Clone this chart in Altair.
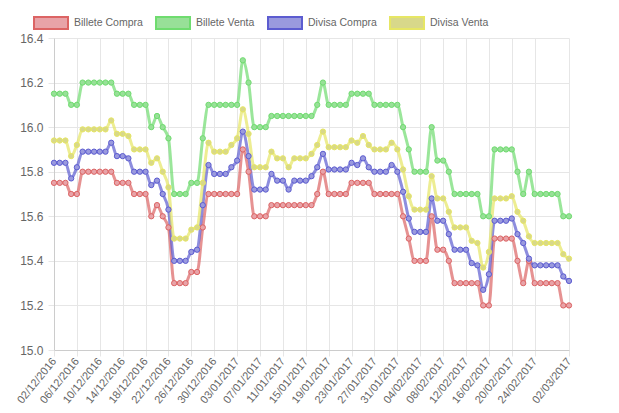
import altair as alt
import pandas as pd

# Daily categories shown on the x axis (02/12/2016 .. 02/03/2017)
fechas = pd.date_range("2016-12-02", "2017-03-02").strftime("%d/%m/%Y").tolist()

tick_labels = ["02/12/2016", "06/12/2016", "10/12/2016", "14/12/2016", "18/12/2016",
               "22/12/2016", "26/12/2016", "30/12/2016", "03/01/2017", "07/01/2017",
               "11/01/2017", "15/01/2017", "19/01/2017", "23/01/2017", "27/01/2017",
               "31/01/2017", "04/02/2017", "08/02/2017", "12/02/2017", "16/02/2017",
               "20/02/2017", "24/02/2017", "02/03/2017"]

y_ticks = [15.0, 15.2, 15.4, 15.6, 15.8, 16.0, 16.2, 16.4]

series = ["Billete Compra", "Billete Venta", "Divisa Compra", "Divisa Venta"]

billete_compra = [
    15.75, 15.75, 15.75, 15.70, 15.70, 15.80, 15.80, 15.80, 15.80, 15.80,
    15.80, 15.75, 15.75, 15.75, 15.70, 15.70, 15.70, 15.60, 15.65, 15.60,
    15.55, 15.30, 15.30, 15.30, 15.35, 15.35, 15.55, 15.70, 15.70, 15.70,
    15.70, 15.70, 15.70, 15.90, 15.80, 15.60, 15.60, 15.60, 15.65, 15.65,
    15.65, 15.65, 15.65, 15.65, 15.65, 15.65, 15.70, 15.80, 15.70, 15.70,
    15.70, 15.70, 15.75, 15.75, 15.75, 15.75, 15.70, 15.70, 15.70, 15.70,
    15.70, 15.60, 15.50, 15.40, 15.40, 15.40, 15.60, 15.45, 15.45, 15.40,
    15.30, 15.30, 15.30, 15.30, 15.30, 15.20, 15.20, 15.50, 15.50, 15.50,
    15.50, 15.40, 15.30, 15.40, 15.30, 15.30, 15.30, 15.30, 15.30, 15.20,
    15.20]

billete_venta = [
    16.15, 16.15, 16.15, 16.10, 16.10, 16.20, 16.20, 16.20, 16.20, 16.20,
    16.20, 16.15, 16.15, 16.15, 16.10, 16.10, 16.10, 16.00, 16.05, 16.00,
    15.95, 15.70, 15.70, 15.70, 15.75, 15.75, 15.95, 16.10, 16.10, 16.10,
    16.10, 16.10, 16.10, 16.30, 16.20, 16.00, 16.00, 16.00, 16.05, 16.05,
    16.05, 16.05, 16.05, 16.05, 16.05, 16.05, 16.10, 16.20, 16.10, 16.10,
    16.10, 16.10, 16.15, 16.15, 16.15, 16.15, 16.10, 16.10, 16.10, 16.10,
    16.10, 16.00, 15.90, 15.80, 15.80, 15.80, 16.00, 15.85, 15.85, 15.80,
    15.70, 15.70, 15.70, 15.70, 15.70, 15.60, 15.60, 15.90, 15.90, 15.90,
    15.90, 15.80, 15.70, 15.80, 15.70, 15.70, 15.70, 15.70, 15.70, 15.60,
    15.60]

divisa_compra = [
    15.84, 15.84, 15.84, 15.77, 15.82, 15.89, 15.89, 15.89, 15.89, 15.89,
    15.93, 15.87, 15.87, 15.86, 15.80, 15.80, 15.80, 15.74, 15.76, 15.70,
    15.63, 15.40, 15.40, 15.40, 15.44, 15.45, 15.65, 15.83, 15.79, 15.79,
    15.79, 15.82, 15.85, 15.98, 15.87, 15.72, 15.72, 15.72, 15.79, 15.76,
    15.76, 15.72, 15.76, 15.76, 15.76, 15.78, 15.82, 15.88, 15.81, 15.81,
    15.81, 15.81, 15.84, 15.83, 15.86, 15.82, 15.80, 15.80, 15.80, 15.83,
    15.80, 15.71, 15.59, 15.53, 15.53, 15.53, 15.68, 15.58, 15.58, 15.52,
    15.45, 15.45, 15.45, 15.39, 15.38, 15.27, 15.34, 15.58, 15.58, 15.58,
    15.59, 15.52, 15.48, 15.41, 15.38, 15.38, 15.38, 15.38, 15.38, 15.33,
    15.31]

divisa_venta = [
    15.94, 15.94, 15.94, 15.87, 15.92, 15.99, 15.99, 15.99, 15.99, 15.99,
    16.03, 15.97, 15.97, 15.96, 15.90, 15.90, 15.90, 15.84, 15.86, 15.80,
    15.73, 15.50, 15.50, 15.50, 15.54, 15.55, 15.75, 15.93, 15.89, 15.89,
    15.89, 15.92, 15.95, 16.08, 15.97, 15.82, 15.82, 15.82, 15.89, 15.86,
    15.86, 15.82, 15.86, 15.86, 15.86, 15.88, 15.92, 15.98, 15.91, 15.91,
    15.91, 15.91, 15.94, 15.93, 15.96, 15.92, 15.90, 15.90, 15.90, 15.93,
    15.90, 15.81, 15.69, 15.63, 15.63, 15.63, 15.78, 15.68, 15.68, 15.62,
    15.55, 15.55, 15.55, 15.49, 15.48, 15.37, 15.44, 15.68, 15.68, 15.68,
    15.69, 15.62, 15.58, 15.51, 15.48, 15.48, 15.48, 15.48, 15.48, 15.43,
    15.41]

border_colors = ["#dc6464", "#6fdc6f", "#5c5cd0", "#e6e664"]
fill_colors = ["#e8a3a8", "#98e098", "#9a9ade", "#d8d88a"]

valores = [billete_compra, billete_venta, divisa_compra, divisa_venta]
rows = []
for s, vals in zip(series, valores):
    for f, v in zip(fechas, vals):
        rows.append({"fecha": f, "serie": s, "valor": v})
df = pd.DataFrame(rows)

font = "Liberation Sans"
legend = alt.Legend(title=None)

x_enc = alt.X("fecha:O", sort=fechas,
              scale=alt.Scale(type="point", padding=0),
              axis=alt.Axis(values=tick_labels, title=None, labelAngle=-51,
                            labelAlign="right", labelBaseline="middle",
                            labelFontSize=11,
                            grid=True, tickSize=6, labelPadding=3))
y_enc = alt.Y("valor:Q",
              scale=alt.Scale(domain=[15.0, 16.4], nice=False, zero=False),
              axis=alt.Axis(values=y_ticks, format=".1f", title=None,
                            tickSize=6, labelPadding=5))

base = alt.Chart(df).encode(x=x_enc, y=y_enc)

lines = base.mark_line(strokeWidth=3, strokeOpacity=0.7, interpolate="monotone").encode(
    stroke=alt.Stroke("serie:N", scale=alt.Scale(domain=series, range=border_colors), legend=legend),
    detail="serie:N",
)

points = base.mark_point(filled=True, size=28, strokeWidth=1, opacity=1).encode(
    fill=alt.Fill("serie:N", scale=alt.Scale(domain=series, range=fill_colors), legend=legend),
    stroke=alt.Stroke("serie:N", scale=alt.Scale(domain=series, range=border_colors), legend=legend),
)

chart = alt.layer(lines, points).properties(
    width=515, height=312,
    autosize=alt.AutoSizeParams(type="none"),
    padding={"left": 46, "top": 30, "right": 42, "bottom": 55},
).configure_view(stroke=None).configure_axis(
    labelFont=font, labelFontSize=12, labelColor="#666666",
    gridColor="#e6e6e6", tickColor="#e6e6e6", domainColor="#cccccc",
).configure_legend(
    orient="none", legendX=-21, legendY=-33, direction="horizontal",
    symbolType="M-1,-0.35L1,-0.35L1,0.35L-1,0.35Z", symbolSize=1156,
    symbolStrokeWidth=2, labelFont=font, labelFontSize=10.5, labelColor="#666666",
    labelOffset=5, columnPadding=9,
)

chart.save("out.html", embed_options={"renderer": "svg", "actions": False})
